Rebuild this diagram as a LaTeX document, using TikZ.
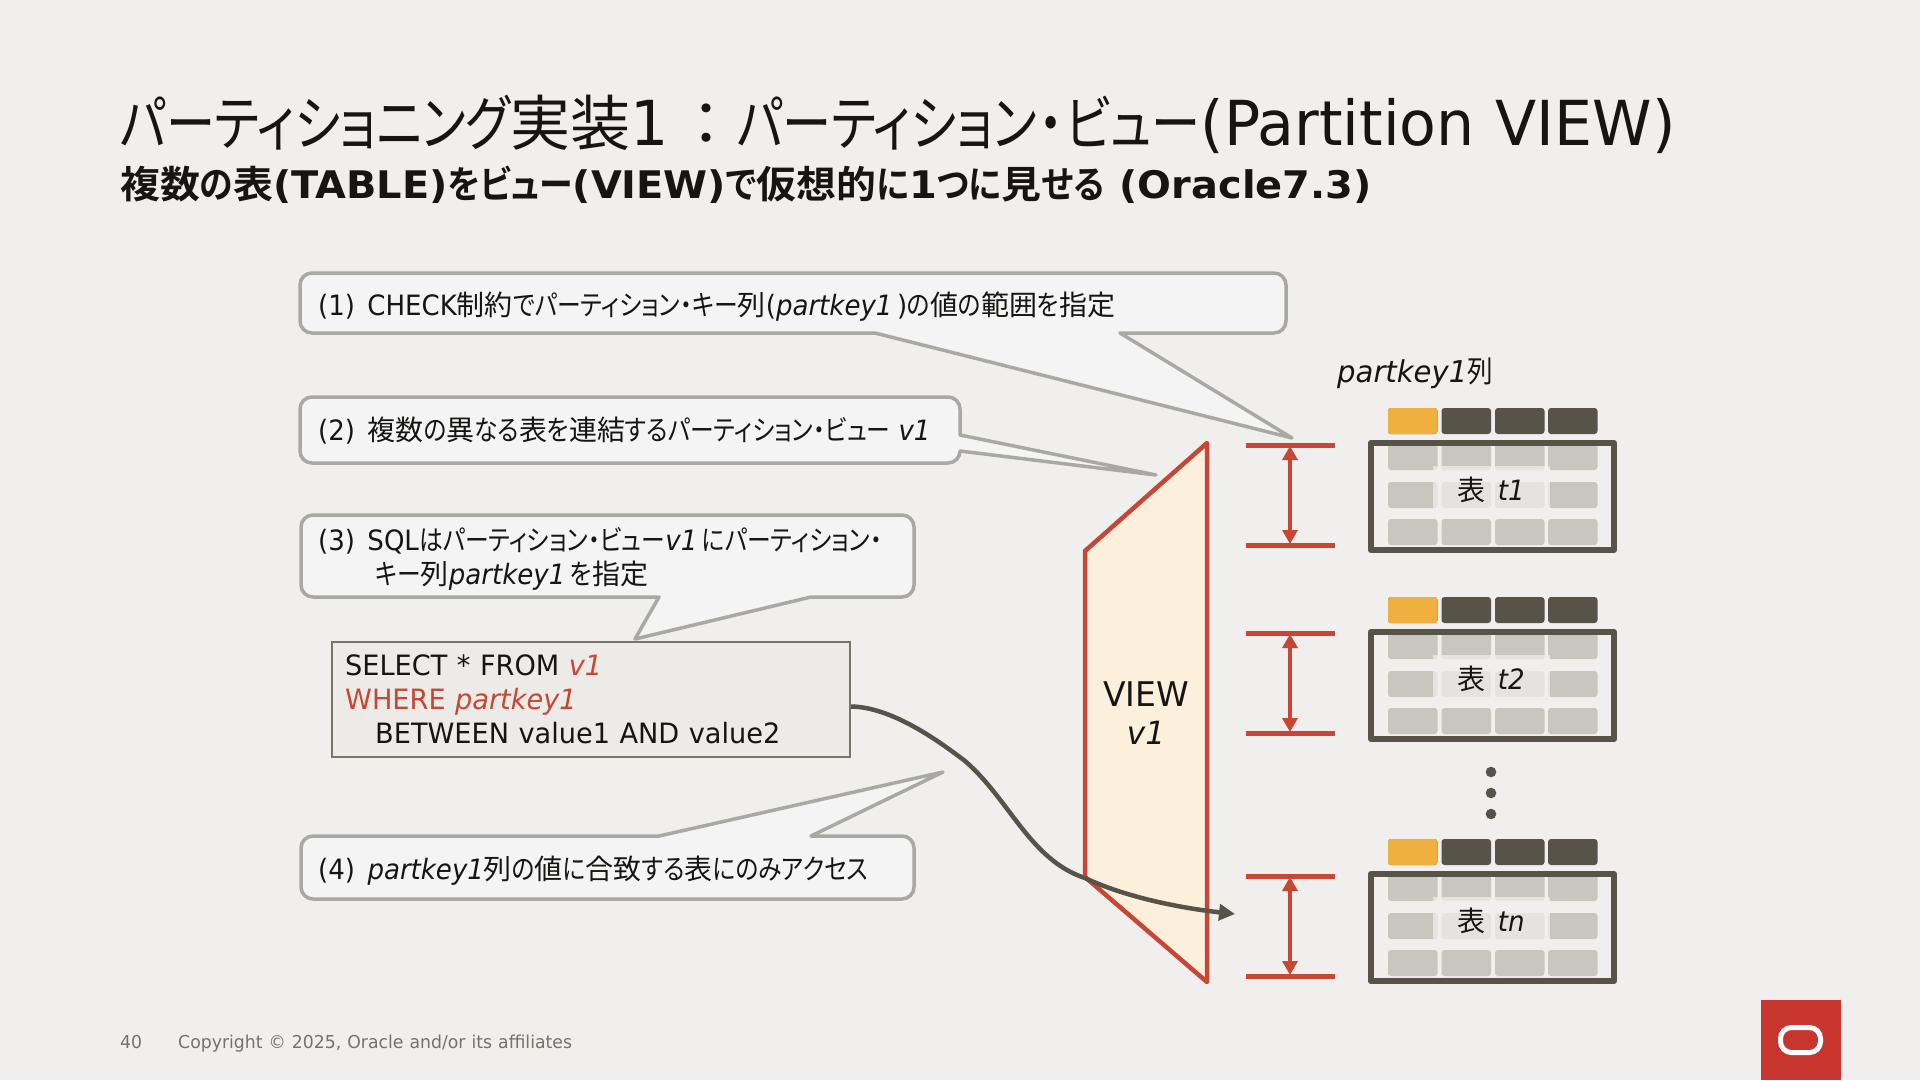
\documentclass[tikz,border=0pt]{standalone}
\usepackage{fontspec}
\usepackage{graphicx}
\usetikzlibrary{arrows.meta}
\setmainfont{DejaVu Sans}[FakeStretch=0.97,WordSpace=1.1]
\newfontfamily\cf{DejaVu Sans}[FakeStretch=0.93,WordSpace=1.5]
\newfontfamily\lb{DejaVu Sans Bold}[FakeStretch=1.05,WordSpace=1.1]
\newfontfamily\jpf{Noto Sans CJK JP}
\newfontfamily\jpk{Noto Sans CJK JP}[RawFeature=+palt,FakeStretch=0.85]
\newfontfamily\jptk{Noto Sans CJK JP}[RawFeature=+palt,FakeStretch=0.82]
\newfontfamily\jpb{Noto Sans CJK JP Bold}[FakeStretch=1.05]
\newfontfamily\jpbk{Noto Sans CJK JP Bold}[RawFeature=+palt,FakeStretch=0.89]
\newcommand{\J}[1]{{\jpf #1}}
\newcommand{\K}[1]{{\jpk #1}}
\newcommand{\TK}[1]{{\jptk #1}}
\newcommand{\B}[1]{{\jpb #1}}
\newcommand{\BK}[1]{{\jpbk #1}}
\newcommand{\I}[1]{\textit{#1}}
\newcommand{\FS}[1]{\fontsize{#1}{#1}\selectfont}
\definecolor{bg}{HTML}{F1EFED}
\definecolor{ink}{HTML}{161513}
\definecolor{redd}{HTML}{C74634}
\definecolor{calloutline}{HTML}{A8A8A5}
\definecolor{calloutfill}{HTML}{F4F4F4}
\definecolor{sqlfill}{HTML}{ECEBE8}
\definecolor{dark}{HTML}{575349}
\definecolor{cellc}{HTML}{C9C6C0}
\definecolor{amber}{HTML}{F0B03F}
\definecolor{viewfill}{HTML}{FCEFDC}
\definecolor{logored}{HTML}{C8352F}
\definecolor{foot}{HTML}{75716B}
\tikzset{
  x=1pt,y=-1pt,
  txt/.style={anchor=base west,inner sep=0pt,text=ink},
  ctxt/.style={txt,font=\cf\FS{28}},
  sqltxt/.style={txt,font=\FS{28}},
  callout/.style={draw=calloutline,fill=calloutfill,line width=3.5pt,line join=round},
  redbar/.style={draw=redd,line width=5pt},
  redarrow/.style={draw=redd,line width=4.5pt,{Triangle[length=14pt,width=15pt]}-{Triangle[length=14pt,width=15pt]},shorten <=1pt,shorten >=1pt},
  hcell/.style={rounded corners=3pt},
  frameb/.style={draw=dark,line width=6pt,line join=round},
  labelbg/.style={fill=bg,fill opacity=.72},
}
\newcommand{\tbl}[3]{% name, top, label
  \foreach \cx in {1388,1441.5,1495,1548}{%
    \fill[dark,hcell] (\cx,#2-32) rectangle ++(49.5,26);
    \fill[cellc,hcell] (\cx,#2+4) rectangle ++(49.5,26);
    \fill[cellc,hcell] (\cx,#2+42) rectangle ++(49.5,26);
    \fill[cellc,hcell] (\cx,#2+79) rectangle ++(49.5,26);
  }
  \fill[amber,hcell] (1388,#2-32) rectangle ++(49.5,26);
  \draw[frameb] (1371,#2+3) rectangle (1614,#2+110);
  \fill[labelbg] (1433,#2+26) rectangle (1550,#2+74);
  \node[anchor=base,inner sep=0pt,text=ink,font=\cf\FS{28}] (#1) at (1491,#2+60) {\J{表} \I{#3}};
}
\newcommand{\gap}[2]{% top y, bottom y
  \coordinate (a) at (1246,#1); \coordinate (b) at (1335,#1);
  \coordinate (c) at (1246,#2); \coordinate (d) at (1335,#2);
  \coordinate (e) at (1290,#1); \coordinate (f) at (1290,#2);
  \draw[redbar] (a) -- (b);
  \draw[redbar] (c) -- (d);
  \draw[redarrow] (e) -- (f);
}
\begin{document}
\begin{tikzpicture}
\useasboundingbox (0,0) rectangle (1920,1080);
\fill[bg] (0,0) rectangle (1920,1080);

% titles
\node[txt,font=\FS{60}] (title) at (120,145) {\TK{パーティショニング}\J{実装}{\FS{62}1}\hspace{8pt}\J{：}\TK{パーティション}\hspace{2pt}\TK{・}\hspace{2pt}\TK{ビュー}{\FS{62}(Partition VIEW)}};
\node[txt,font=\FS{38}\lb] (subtitle) at (120,198) {\B{複数}\BK{の}\B{表}(TABLE)\BK{をビュー}(VIEW)\BK{で}\B{仮想的}\BK{に}1\BK{つに}\B{見}\BK{せる} (Oracle7.3)};

% callouts
\draw[callout] (600,273) [rounded corners=12pt] -- (1286,273) -- (1286,333) [sharp corners] -- (1120,333) -- (1292,438) -- (875,333) [rounded corners=12pt] -- (300,333) -- (300,273) -- cycle;
\draw[callout] (600,397) [rounded corners=12pt] -- (960,397) [sharp corners] -- (960,435) -- (1156,475) -- (960,451) [rounded corners=12pt] -- (960,463) -- (300,463) -- (300,397) -- cycle;
\draw[callout] (600,515) [rounded corners=12pt] -- (914,515) -- (914,597) [sharp corners] -- (811,597) -- (635,639) -- (659,597) [rounded corners=12pt] -- (301,597) -- (301,515) -- cycle;
\draw[callout] (600,899) [rounded corners=12pt] -- (301,899) -- (301,836) [sharp corners] -- (659,836) -- (943,772) -- (811,836) [rounded corners=12pt] -- (914,836) -- (914,899) -- cycle;

\node[ctxt] (c1) at (318,315) {(1) CHECK\J{制約}\K{でパーティション・キー}\J{列}(\I{partkey1}\,)\K{の}\J{値}\K{の}\J{範囲}\K{を}\J{指定}};
\node[ctxt] (c2) at (318,440) {(2) \J{複数}\K{の}\J{異}\K{なる}\J{表}\K{を}\J{連結}\K{するパーティション・ビュー}\hspace{8pt}\I{v1}};
\node[ctxt] (c3a) at (318,550) {(3) SQL\K{はパーティション・ビュー}\I{v1}\,\K{にパーティション・}};
\node[ctxt] (c3b) at (375,584) {\K{キー}\J{列}\I{partkey1}\,\K{を}\J{指定}};
\node[ctxt] (c4) at (318,879) {(4) \I{partkey1}\J{列}\K{の}\J{値}\K{に}\J{合致}\K{する}\J{表}\K{にのみアクセス}};

% sql box
\node[draw=dark!80,fill=sqlfill,line width=2pt,minimum width=518.5pt,minimum height=115pt,inner sep=0pt,anchor=north west] (sql) at (330.5,641) {};
\node[sqltxt] (s1) at (345,675) {SELECT * FROM \textcolor{redd}{\I{v1}}};
\node[sqltxt] (s2) at (345,709) {\textcolor{redd}{WHERE \I{partkey1}}};
\node[sqltxt] (s3) at (375,743) {BETWEEN value1 AND value2};

% view
\filldraw[fill=viewfill,draw=redd,line width=4.5pt,line join=round] (1085,551) -- (1207,443) -- (1207,982) -- (1085,877) -- cycle;
\node[anchor=base,inner sep=0pt,text=ink,font=\FS{34}] (vw) at (1146,706) {VIEW};
\node[anchor=base,inner sep=0pt,text=ink,font=\FS{32}] (vv) at (1146,744) {\I{v1}};

% gaps
\gap{445}{545}
\gap{633}{733}
\gap{876}{976}

% tables
\node[txt,font=\FS{30}] (pk) at (1337,382) {\I{partkey1}\K{列}};
\tbl{t1}{440}{t1}
\tbl{t2}{629}{t2}
\tbl{tn}{871}{tn}
\foreach \dy/\nm in {772/da,793/db,814/dc}{\fill[dark] (1491,\dy) circle (5.3pt);}

% curve
\coordinate (tip) at (1235,914);
\draw[dark,line width=4.5pt,-{Triangle[length=16pt,width=16pt]}] (sql.east) ++(0,7) .. controls (890,707) and (935,738) .. (965,761) .. controls (1010,800) and (1030,860) .. (1085,878) .. controls (1125,897) and (1180,908) .. (tip);

% footer
\node[txt,font=\FS{17.8},text=foot] (pg) at (120,1048) {40};
\node[txt,font=\FS{17.8},text=foot] (copy) at (178,1048) {Copyright © 2025, Oracle and/or its affiliates};

% logo
\fill[logored] (1761,1000) rectangle (1841,1080);
\draw[white,line width=5pt,rounded corners=11pt] (1780.5,1027.5) rectangle (1820.5,1052.5);
\end{tikzpicture}
\end{document}
